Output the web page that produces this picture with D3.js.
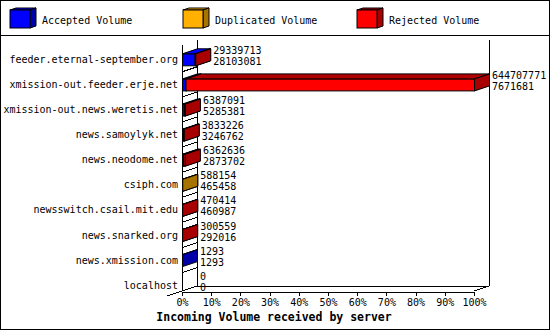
<!DOCTYPE html>
<html>
<head>
<meta charset="utf-8">
<script src="https://cdn.jsdelivr.net/npm/d3@7"></script>
<style>
  body { margin: 0; background: #fff; }
  svg { display: block; }
  text { font-family: "DejaVu Sans Mono", monospace; font-size: 10px; fill: #000; }
</style>
</head>
<body>
<div id="chart"></div>
<script>
// data
var servers = [
  "feeder.eternal-september.org",
  "xmission-out.feeder.erje.net",
  "xmission-out.news.weretis.net",
  "news.samoylyk.net",
  "news.neodome.net",
  "csiph.com",
  "newsswitch.csail.mit.edu",
  "news.snarked.org",
  "news.xmission.com",
  "localhost"
];
var totalVolume    = [29339713, 644707771, 6387091, 3833226, 6362636, 588154, 470414, 300559, 1293, 0];
var acceptedVolume = [28103081, 7671681, 5285381, 3246762, 2873702, 465458, 460987, 292016, 1293, 0];
var duplicatedVolume = [0, 0, 0, 0, 0, 122696, 0, 0, 0, 0];
var rejectedVolume = [1236632, 637036090, 1101710, 586464, 3488934, 0, 9427, 8543, 0, 0];
var seriesNames = ["Accepted Volume", "Duplicated Volume", "Rejected Volume"];
var percentTicks = [0, 0.1, 0.2, 0.3, 0.4, 0.5, 0.6, 0.7, 0.8, 0.9, 1];
var axisTitle = "Incoming Volume received by server";

var width = 550, height = 330;
var depthX = 15, depthY = 5;
var barHalf = 6;
var colors = [
  {front: "#0000ff", top: "#0000ff", side: "#0000a8"},
  {front: "#ffb000", top: "#ffb000", side: "#a87400"},
  {front: "#ff0000", top: "#b00000", side: "#a80000"}
];
var series = [acceptedVolume, duplicatedVolume, rejectedVolume];

var svg = d3.select("#chart")
  .append("svg")
    .attr("width", width)
    .attr("height", height);

// frame and legend box
svg.append("rect")
  .attr("x", 0.5).attr("y", 0.5)
  .attr("width", width - 1).attr("height", height - 1)
  .attr("fill", "#fff").attr("stroke", "#000")
  .attr("shape-rendering", "crispEdges");
svg.append("line")
  .attr("x1", 0).attr("x2", width)
  .attr("y1", 35.5).attr("y2", 35.5)
  .attr("stroke", "#000")
  .attr("shape-rendering", "crispEdges");

// legend cubes
var legendX = [10, 183, 357];
seriesNames.forEach(function(name, i) {
  var g = svg.append("g").attr("transform", "translate(" + legendX[i] + ",10)");
  g.append("polygon")
    .attr("points", "0,0 6,-2 26,-2 20,0")
    .attr("fill", colors[i].top).attr("stroke", "#000");
  g.append("polygon")
    .attr("points", "20,0 26,-2 26,16 20,18")
    .attr("fill", colors[i].side).attr("stroke", "#000");
  g.append("rect")
    .attr("x", 0).attr("y", 0).attr("width", 20).attr("height", 18)
    .attr("fill", colors[i].front).attr("stroke", "#000");
  svg.append("text")
    .attr("x", legendX[i] + 32).attr("y", 20)
    .attr("dy", "0.35em")
    .text(name);
});

// scales
var maxTotal = d3.max(totalVolume);
var x = d3.scaleLinear().domain([0, 1]).range([182, 474]);
var y = d3.scaleBand().domain(servers).range([46.75, 297.75]);
function yc(d) { return y(d) + y.bandwidth() / 2; }

var floorY = 291;
var wallTop = 45;

var frame = svg.append("g")
  .attr("stroke", "#000").attr("fill", "none")
  .attr("shape-rendering", "crispEdges");

// left wall
frame.append("line")
  .attr("x1", x(0) + 0.5).attr("x2", x(0) + 0.5)
  .attr("y1", wallTop).attr("y2", floorY);
frame.append("line")
  .attr("x1", x(0) + depthX + 0.5).attr("x2", x(0) + depthX + 0.5)
  .attr("y1", wallTop - depthY).attr("y2", floorY - depthY);
// back wall right edge
frame.append("line")
  .attr("x1", x(1) + depthX + 0.5).attr("x2", x(1) + depthX + 0.5)
  .attr("y1", wallTop - depthY).attr("y2", floorY - depthY);
// floor
frame.append("line")
  .attr("x1", x(0) + depthX).attr("x2", x(1) + depthX)
  .attr("y1", floorY - depthY + 0.5).attr("y2", floorY - depthY + 0.5);
frame.append("line")
  .attr("x1", x(0) - depthX).attr("y1", floorY + depthY)
  .attr("x2", x(0) + depthX).attr("y2", floorY - depthY);
frame.append("line")
  .attr("x1", x(1)).attr("y1", floorY)
  .attr("x2", x(1) + depthX).attr("y2", floorY - depthY);

// separators on the left wall
servers.slice(1).forEach(function(s) {
  frame.append("line")
    .attr("x1", x(0)).attr("y1", y(s))
    .attr("x2", x(0) + depthX).attr("y2", y(s) - depthY);
});

// bottom axis
var axis = svg.append("g")
  .attr("transform", "translate(0," + (floorY + 0.5) + ")")
  .call(d3.axisBottom(x)
    .tickValues(percentTicks)
    .tickFormat(d3.format(".0%"))
    .tickSize(4)
    .tickSizeOuter(0));
axis.selectAll("path, line").attr("shape-rendering", "crispEdges");
axis.selectAll("text")
  .style("font-family", '"DejaVu Sans Mono", monospace')
  .style("font-size", "10px");

// bars
var bars = svg.append("g").attr("stroke", "#000").attr("stroke-linejoin", "miter");
servers.forEach(function(s, i) {
  var cy = yc(s);
  var top = cy - barHalf, bot = cy + barHalf;
  var cum = 0;
  series.forEach(function(vals, k) {
    var v = vals[i];
    if (!v) return;
    var x0 = x(cum / maxTotal), x1 = x((cum + v) / maxTotal);
    cum += v;
    bars.append("rect")
      .attr("x", x0 + 0.5).attr("y", top + 0.5)
      .attr("width", Math.max(0, x1 - x0)).attr("height", bot - top)
      .attr("fill", colors[k].front);
    bars.append("polygon")
      .attr("points", [[x0, top], [x1, top], [x1 + depthX, top - depthY], [x0 + depthX, top - depthY]]
        .map(function(p) { return (p[0] + 0.5) + "," + (p[1] + 0.5); }).join(" "))
      .attr("fill", colors[k].top);
    bars.append("polygon")
      .attr("points", [[x1, top], [x1 + depthX, top - depthY], [x1 + depthX, bot - depthY], [x1, bot]]
        .map(function(p) { return (p[0] + 0.5) + "," + (p[1] + 0.5); }).join(" "))
      .attr("fill", colors[k].side);
  });
});

// value labels and server names
servers.forEach(function(s, i) {
  var cy = yc(s);
  var lx = x(totalVolume[i] / maxTotal) + depthX + 3;
  svg.append("text").attr("x", lx).attr("y", cy - 9).attr("dy", "0.35em").text(totalVolume[i]);
  svg.append("text").attr("x", lx).attr("y", cy + 2).attr("dy", "0.35em").text(acceptedVolume[i]);
  svg.append("text")
    .attr("x", 178).attr("y", cy).attr("dy", "0.35em")
    .attr("text-anchor", "end")
    .text(s);
});

// axis title
svg.append("text")
  .attr("x", 274).attr("y", 317).attr("dy", "0.35em")
  .attr("text-anchor", "middle")
  .style("font-size", "11.5px")
  .style("font-weight", "bold")
  .text(axisTitle);
</script>
</body>
</html>
